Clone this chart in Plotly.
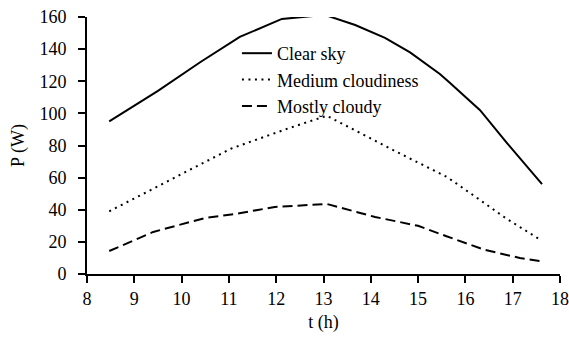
import plotly.graph_objects as go

# Clear sky
t_clear = [8.47, 9.5, 10.4, 11.23, 12.12, 13.03, 13.67, 14.3, 14.83, 15.46, 15.67, 16.31, 16.88, 17.62]
p_clear = [95, 114, 132, 147.6, 158.8, 161.3, 155, 147, 138, 124.5, 119, 102, 81.5, 56]

# Medium cloudiness
t_medium = [8.47, 11.04, 12.29, 13.07, 14.55, 15.61, 16.1, 16.84, 17.6]
p_medium = [39, 78, 91, 98.5, 76, 60.4, 50.4, 35, 21]

# Mostly cloudy
t_cloudy = [8.47, 9.40, 10.5, 11.13, 11.97, 13.07, 14.09, 15.0, 15.6, 16.41, 17.15, 17.6]
p_cloudy = [14.3, 26.2, 34.9, 37.4, 41.7, 43.6, 35.5, 30, 23.5, 15, 10, 8]

x_ticks = [8, 9, 10, 11, 12, 13, 14, 15, 16, 17, 18]
y_ticks = [0, 20, 40, 60, 80, 100, 120, 140, 160]

FONT = "Liberation Serif, Times New Roman, serif"
fnt = dict(family=FONT, size=18, color="black")

fig = go.Figure()
fig.add_trace(go.Scatter(x=t_clear, y=p_clear, mode="lines", name="Clear sky", cliponaxis=False,
                         line=dict(color="black", width=2, dash="solid")))
fig.add_trace(go.Scatter(x=t_medium, y=p_medium, mode="lines", name="Medium cloudiness", cliponaxis=False,
                         line=dict(color="black", width=2, dash="2px,4.5px")))
fig.add_trace(go.Scatter(x=t_cloudy, y=p_cloudy, mode="lines", name="Mostly cloudy", cliponaxis=False,
                         line=dict(color="black", width=2, dash="10px,5px")))

fig.update_layout(
    template="none",
    width=569, height=337,
    margin=dict(l=87, r=9, t=17, b=63),
    paper_bgcolor="white", plot_bgcolor="white",
    font=fnt,
    showlegend=True,
    legend=dict(x=0.317, y=0.93, xanchor="left", yanchor="top",
                bgcolor="rgba(0,0,0,0)", tracegroupgap=0,
                font=fnt, itemwidth=30),
    xaxis=dict(range=[8, 18], tickvals=x_ticks, ticktext=[str(v) for v in x_ticks],
               showgrid=False, zeroline=False, showline=True, linecolor="black", linewidth=2,
               ticks="outside", ticklen=7, tickwidth=2, tickcolor="black",
               tickfont=fnt, ticklabeloverflow="allow",
               title=dict(text="t (h)", standoff=8, font=fnt)),
    yaxis=dict(range=[0, 160], tickvals=y_ticks, ticktext=[str(v) for v in y_ticks],
               showgrid=False, zeroline=False, showline=True, linecolor="black", linewidth=2,
               ticks="outside", ticklen=7, tickwidth=2, tickcolor="black",
               ticklabelstandoff=8, tickfont=fnt, ticklabeloverflow="allow",
               title=dict(text="P (W)", standoff=10, font=fnt)),
)

fig.write_html("out.html", config={"displayModeBar": False},
               post_script="document.body.style.margin='0';")
